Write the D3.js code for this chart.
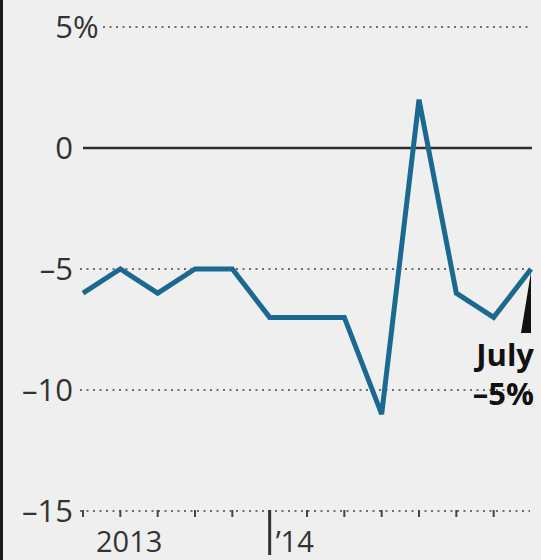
<!DOCTYPE html>
<html>
<head>
<meta charset="utf-8">
<script src="https://cdn.jsdelivr.net/npm/d3@7"></script>
<style>
  html, body { margin: 0; padding: 0; background: #efefef; }
  svg { display: block; }
  text { font-family: "Open Sans", "Noto Sans", sans-serif; fill: #333; }
</style>
</head>
<body>
<svg id="chart" width="541" height="560"></svg>
<script>
// Monthly change, Jul 2013 – Jul 2014 (percent)
const months = ["Jul 2013","Aug","Sep","Oct","Nov","Dec","Jan 2014","Feb","Mar","Apr","May","Jun","Jul 2014"];
const values = [-6, -5, -6, -5, -5, -7, -7, -7, -11, 2, -6, -7, -5];
const yTicks = [5, 0, -5, -10, -15];
const yTickLabels = ["5", "0", "–5", "–10", "–15"];
const yearLabels = ["2013", "’14"];
const yearStartIndex = [0, 5];
const calloutLines = ["July", "–5%"];

const svg = d3.select("#chart");
const W = 541, H = 560;

svg.append("rect").attr("width", W).attr("height", H).attr("fill", "#efefef");
svg.append("rect").attr("width", 3).attr("height", H).attr("fill", "#1b1b1b");

const x = d3.scaleLinear().domain([0, months.length - 1]).range([83, 531]);
const y = d3.scaleLinear().domain([-15, 5]).range([511, 27]);

// Gridlines
const grid = svg.append("g");
yTicks.forEach(v => {
  const isZero = v === 0;
  grid.append("line")
    .attr("x1", v === 5 ? 103 : (isZero ? 83 : 80))
    .attr("x2", isZero ? 532 : 530)
    .attr("y1", y(v)).attr("y2", y(v))
    .attr("stroke", isZero ? "#2e2e2e" : "#6e6e6e")
    .attr("stroke-width", isZero ? 2.5 : 2)
    .attr("stroke-dasharray", isZero ? null : "2,4.5");
});

// Y labels
const labels = svg.append("g").attr("font-size", 31);
yTicks.forEach((v, i) => {
  labels.append("text")
    .attr("x", 73).attr("y", y(v)).attr("dy", "0.36em")
    .attr("text-anchor", "end")
    .text(yTickLabels[i]);
});
labels.append("text")
  .attr("x", 73).attr("y", y(5)).attr("dy", "0.36em")
  .text("%");

// Month ticks along the baseline
const ticks = svg.append("g");
d3.range(months.length - 1).forEach(i => {
  ticks.append("line")
    .attr("x1", x(i)).attr("x2", x(i))
    .attr("y1", y(-15) - 1).attr("y2", y(-15) + 6)
    .attr("stroke", "#444").attr("stroke-width", 2);
});

// Year marks
yearLabels.forEach((t, i) => {
  const xi = x(yearStartIndex[i]);
  if (i > 0) {
    svg.append("line")
      .attr("x1", xi).attr("x2", xi)
      .attr("y1", y(-15) - 1).attr("y2", 555)
      .attr("stroke", "#333").attr("stroke-width", 3);
  }
  svg.append("text")
    .attr("x", i === 0 ? xi + 13 : xi + 6)
    .attr("y", 552)
    .attr("font-size", 29)
    .text(t);
});

// Series line
const line = d3.line().x((d, i) => x(i)).y(d => y(d));
svg.append("path")
  .datum(values)
  .attr("d", line)
  .attr("fill", "none")
  .attr("stroke", "#1b6893")
  .attr("stroke-width", 5)
  .attr("stroke-linejoin", "miter");

// Callout for the latest value
const last = values.length - 1;
const lx = x(last), ly = y(values[last]);
svg.append("path")
  .attr("d", `M${lx},${ly + 3} L${lx},${ly + 64} L${lx - 10},${ly + 64} Z`)
  .attr("fill", "#111");
const callout = svg.append("g").attr("font-size", 31).attr("font-weight", "bold");
calloutLines.forEach((t, i) => {
  callout.append("text")
    .attr("x", 534).attr("y", 366 + i * 39)
    .attr("text-anchor", "end")
    .style("fill", "#111")
    .text(t);
});
</script>
</body>
</html>
